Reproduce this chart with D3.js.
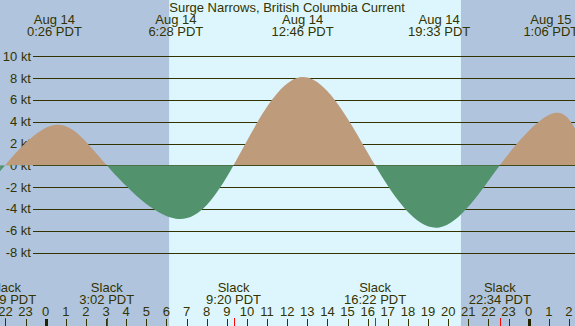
<!DOCTYPE html>
<html>
<head>
<meta charset="utf-8">
<script src="https://cdn.jsdelivr.net/npm/d3@7"></script>
<style>
  body { margin: 0; }
  svg { display: block; font-family: "Liberation Sans", Arial, sans-serif; }
</style>
</head>
<body>
<svg width="575" height="326"></svg>
<script>
const title = "Surge Narrows, British Columbia Current";

// max current events (day offset from Aug 14, time, knots)
const maxDays = [0, 0, 0, 0, 1];
const maxTimes = ["0:26", "6:28", "12:46", "19:33", "1:06"];
const maxSpeeds = [3.7, -4.9, 8.1, -5.7, 4.7];

// slack events
const slackDays = [-1, 0, 0, 0, 0];
const slackTimes = ["21:59", "3:02", "9:20", "16:22", "22:34"];

// current at the left and right edges of the picture
const edgeDays = [-1, 1];
const edgeTimes = ["21:44", "2:18"];
const edgeSpeeds = [-0.5, 3.4];

// daylight
const sunDays = [0, 0];
const sunTimes = ["6:08", "20:38"];

const yTicks = [-8, -6, -4, -2, 0, 2, 4, 6, 8, 10];
const dayNames = ["Aug 13", "Aug 14", "Aug 15"];

const W = 575, H = 326;
const FS = 13;
const toDate = (day, t) => {
  const [h, m] = t.split(":").map(Number);
  return new Date(2024, 7, 14 + day, h, m);
};

const x = d3.scaleTime()
  .domain([new Date(2024, 7, 14), new Date(2024, 7, 15)])
  .range([45.7, 528.7]);
const y = d3.scaleLinear().domain([0, 10]).range([165.3, 56.3]);

const svg = d3.select("svg");
const ink = "#333300";

// background: night / day
svg.append("rect").attr("width", W).attr("height", H).attr("fill", "#b0c4de");
const sunrise = toDate(sunDays[0], sunTimes[0]);
const sunset = toDate(sunDays[1], sunTimes[1]);
svg.append("rect")
  .attr("x", x(sunrise)).attr("y", 0)
  .attr("width", x(sunset) - x(sunrise)).attr("height", H)
  .attr("fill", "#ddf6fe");

// grid lines + y labels
const grid = svg.append("g");
grid.selectAll("line").data(yTicks).enter().append("line")
  .attr("x1", 33).attr("x2", W)
  .attr("y1", (d) => Math.round(y(d)) + 0.5).attr("y2", (d) => Math.round(y(d)) + 0.5)
  .attr("stroke", ink).attr("stroke-width", 1);
grid.selectAll("text").data(yTicks).enter().append("text")
  .attr("x", 31).attr("y", (d) => y(d) + 4.5)
  .attr("text-anchor", "end").attr("font-size", FS).attr("fill", ink)
  .text((d) => d + " kt");

// current curve
const pts = [];
maxTimes.forEach((t, i) => pts.push({ date: toDate(maxDays[i], t), v: maxSpeeds[i] }));
slackTimes.forEach((t, i) => pts.push({ date: toDate(slackDays[i], t), v: 0 }));
edgeTimes.forEach((t, i) => pts.push({ date: toDate(edgeDays[i], t), v: edgeSpeeds[i] }));
pts.sort((a, b) => a.date - b.date);

const area = d3.area()
  .x((d) => x(d.date))
  .y0(y(0))
  .y1((d) => y(d.v))
  .curve(d3.curveNatural);

const defs = svg.append("defs");
defs.append("clipPath").attr("id", "above")
  .append("rect").attr("x", 0).attr("y", 0).attr("width", W).attr("height", y(0));
defs.append("clipPath").attr("id", "below")
  .append("rect").attr("x", 0).attr("y", y(0)).attr("width", W).attr("height", H - y(0));

svg.append("path").datum(pts).attr("d", area)
  .attr("fill", "#bd9b7b").attr("clip-path", "url(#above)");
svg.append("path").datum(pts).attr("d", area)
  .attr("fill", "#52936e").attr("clip-path", "url(#below)");

// title
svg.append("text").attr("x", 287).attr("y", 11.5)
  .attr("text-anchor", "middle").attr("font-size", FS).attr("fill", ink)
  .text(title);

// max labels on top
const topLabels = svg.append("g").attr("font-size", FS).attr("fill", ink).attr("text-anchor", "middle");
maxTimes.forEach((t, i) => {
  const d = toDate(maxDays[i], t);
  topLabels.append("text").attr("x", x(d)).attr("y", 23.8).text(dayNames[maxDays[i] + 1]);
  topLabels.append("text").attr("x", x(d)).attr("y", 36.3).text(t + " PDT");
});

// slack labels at bottom
const botLabels = svg.append("g").attr("font-size", FS).attr("fill", ink).attr("text-anchor", "middle");
slackTimes.forEach((t, i) => {
  const d = toDate(slackDays[i], t);
  botLabels.append("text").attr("x", x(d)).attr("y", 291.5).text("Slack");
  botLabels.append("text").attr("x", x(d)).attr("y", 303.5).text(t + " PDT");
  svg.append("line")
    .attr("x1", Math.round(x(d)) + 0.5).attr("x2", Math.round(x(d)) + 0.5)
    .attr("y1", 318).attr("y2", H)
    .attr("stroke", "red").attr("stroke-width", 1);
});

// hour ticks
const hours = d3.timeHour.range(new Date(2024, 7, 13, 22), new Date(2024, 7, 15, 3));
const hg = svg.append("g");
hg.selectAll("text").data(hours).enter().append("text")
  .attr("x", (d) => x(d)).attr("y", 315.5)
  .attr("text-anchor", "middle").attr("font-size", FS).attr("fill", ink)
  .text((d) => d.getHours());
hg.selectAll("line").data(hours).enter().append("line")
  .attr("x1", (d) => Math.round(x(d)) + 0.5).attr("x2", (d) => Math.round(x(d)) + 0.5)
  .attr("y1", 319).attr("y2", H)
  .attr("stroke", (d) => (d.getHours() === 0 ? "#222200" : ink))
  .attr("stroke-width", (d) => (d.getHours() === 0 ? 3 : 1));
</script>
</body>
</html>
